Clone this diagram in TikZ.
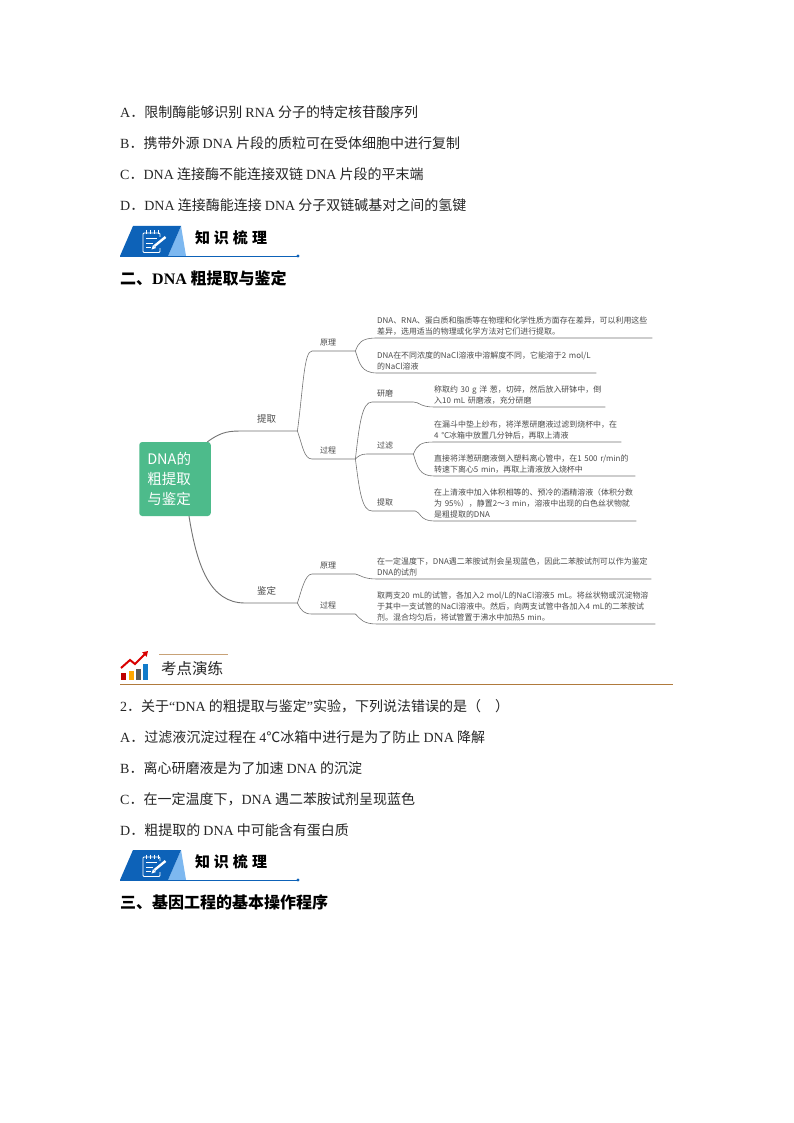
\documentclass[tikz,border=0pt]{standalone}
\usepackage{fontspec}
\setmainfont{Noto Sans CJK SC}
\newfontfamily\enfont{Liberation Serif}
\newcommand{\en}[1]{{\enfont #1}}
\usetikzlibrary{arrows.meta}
\definecolor{barblue}{HTML}{0D62B8}
\definecolor{barlight}{HTML}{7DB8F0}
\definecolor{rootgreen}{HTML}{4DBB8B}
\definecolor{maptext}{HTML}{4A4A4A}
\definecolor{rulebrown}{HTML}{B07A3C}
\tikzset{
  bodyline/.style={anchor=base west,inner sep=0pt,font=\fontsize{14}{16}\selectfont,text=black!85},
  headline/.style={anchor=base west,inner sep=0pt,font=\fontsize{16}{18}\selectfont\bfseries},
  branch/.style={draw=black!55,line width=0.6pt},
  mapmain/.style={anchor=south west,inner xsep=0pt,inner ysep=8pt,align=left,text=maptext,font=\fontsize{9.5}{11}\selectfont},
  mapsub/.style={anchor=south west,inner xsep=0pt,inner ysep=5pt,align=left,text=maptext,font=\fontsize{8}{10}\selectfont},
  mapleaf/.style={anchor=south west,inner xsep=0pt,inner ysep=2.5pt,align=left,text=maptext,font=\fontsize{7.95}{11}\selectfont}
}
\begin{document}
\begin{tikzpicture}[x=1pt,y=-1pt]
  \useasboundingbox[fill=white] (0,0) rectangle (794,1123);
  % first options
  \node[bodyline] (optA) at (120,118) {\en{A}．限制酶能够识别 \en{RNA} 分子的特定核苷酸序列};
  \node[bodyline] (optB) at (120,149) {\en{B}．携带外源 \en{DNA} 片段的质粒可在受体细胞中进行复制};
  \node[bodyline] (optC) at (120,180) {\en{C}．\en{DNA} 连接酶不能连接双链 \en{DNA} 片段的平末端};
  \node[bodyline] (optD) at (120,211) {\en{D}．\en{DNA} 连接酶能连接 \en{DNA} 分子双链碱基对之间的氢键};
  % knowledge bars
  \foreach \dy in {0,624} {
    \begin{scope}[yshift=-\dy pt]
      \fill[barlight] (181,226) -- (186,256) -- (168,256) -- cycle;
      \fill[barblue] (120,256) -- (133,226) -- (181,226) -- (168,256) -- cycle;
      \draw[barblue,line width=1pt] (120,256) -- (298,256);
      \fill[barblue] (298,256) circle (1.6);
      \draw[white,line width=0.9pt,rounded corners=1pt] (160,237) -- (160,233) -- (143,233) -- (143,252.5) -- (160,252.5) -- (160,248);
      \foreach \tx in {146,150,154,158}
        \draw[white,line width=0.8pt] (\tx,230.5) -- (\tx,234.5);
      \draw[white,line width=0.8pt] (146,238.5) -- (157,238.5) (146,243) -- (153,243) (146,247.5) -- (151,247.5);
      \draw[white,line width=2.4pt] (154.5,246) -- (165.5,237);
      \fill[white] (151.5,249.5) -- (153,245) -- (156,248) -- cycle;
      \node[inner sep=0pt,font=\fontsize{15}{16}\selectfont\bfseries] (know\dy) at (231,238) {知\hspace{4pt}识\hspace{4pt}梳\hspace{4pt}理};
    \end{scope}
  }
  \node[headline] (headTwo) at (120,284) {二、\en{DNA} 粗提取与鉴定};
  % mind map
  \node[fill=rootgreen,rounded corners=3pt,minimum width=71.5pt,minimum height=74pt,inner sep=0pt,text=white,
    align=left,font=\fontsize{14.5}{20}\selectfont,text width=71.5pt] (root) at (175,479) {\hspace*{8pt}DNA的\\\hspace*{8pt}粗提取\\\hspace*{8pt}与鉴定};
  \node[mapmain,text width=52pt] (tiqu) at (245,431) {\hspace*{12pt}提取};
  \node[mapmain,text width=52pt] (jianding) at (245,603) {\hspace*{12pt}鉴定};
  \node[mapsub,text width=43pt] (yuanliA) at (312,351) {\hspace*{8pt}原理};
  \node[mapsub,text width=43pt] (guochengA) at (312,459) {\hspace*{8pt}过程};
  \node[mapsub,text width=43pt] (yuanliB) at (312,574) {\hspace*{8pt}原理};
  \node[mapsub,text width=43pt] (guochengB) at (312,614) {\hspace*{8pt}过程};
  \node[mapsub,text width=41pt] (yanmo) at (372,402) {\hspace*{5pt}研磨};
  \node[mapsub,text width=46pt] (guolv) at (367,454) {\hspace*{10pt}过滤};
  \node[mapsub,text width=43pt] (tiquB) at (372,511) {\hspace*{5pt}提取};
  \node[mapleaf,text width=275pt] (leafA) at (377,338) {DNA、RNA、蛋白质和脂质等在物理和化学性质方面存在差异，可以利用这些\\差异，选用适当的物理或化学方法对它们进行提取。};
  \node[mapleaf,text width=219pt] (leafB) at (377,373) {DNA在不同浓度的NaCl溶液中溶解度不同，它能溶于2 mol/L\\的NaCl溶液};
  \node[mapleaf,text width=171pt] (leafC) at (434,407) {称取约 30 g 洋 葱，切碎，然后放入研钵中，倒\\入10 mL 研磨液，充分研磨};
  \node[mapleaf,text width=187pt] (leafD) at (434,442) {在漏斗中垫上纱布，将洋葱研磨液过滤到烧杯中，在\\4 ℃冰箱中放置几分钟后，再取上清液};
  \node[mapleaf,text width=201pt] (leafE) at (434,476) {直接将洋葱研磨液倒入塑料离心管中，在1 500 r/min的\\转速下离心5 min，再取上清液放入烧杯中};
  \node[mapleaf,text width=202pt] (leafF) at (434,521) {在上清液中加入体积相等的、预冷的酒精溶液（体积分数\\为 95\%），静置2～3 min，溶液中出现的白色丝状物就\\是粗提取的DNA};
  \node[mapleaf,text width=274pt] (leafG) at (377,579) {在一定温度下，DNA遇二苯胺试剂会呈现蓝色，因此二苯胺试剂可以作为鉴定\\DNA的试剂};
  \node[mapleaf,text width=278pt] (leafH) at (377,624) {取两支20 mL的试管，各加入2 mol/L的NaCl溶液5 mL。将丝状物或沉淀物溶\\于其中一支试管的NaCl溶液中。然后，向两支试管中各加入4 mL的二苯胺试\\剂。混合均匀后，将试管置于沸水中加热5 min。};
  % connectors
  \draw[branch,line width=0.9pt] ([xshift=-3.5pt]root.north east) .. controls +(15,-11) and +(-15,0) .. (tiqu.south west) -- (tiqu.south east);
  \draw[branch,line width=0.9pt] ([xshift=14pt]root.south) .. controls +(8,50) and +(-35,0) .. (jianding.south west) -- (jianding.south east);
  \draw[branch] (tiqu.south east) .. controls +(6,-45) and +(-8,0) .. (yuanliA.south west) -- (yuanliA.south east);
  \draw[branch] (tiqu.south east) .. controls +(5,14) and +(-8,0) .. (guochengA.south west) -- (guochengA.south east);
  \draw[branch] (jianding.south east) .. controls +(4,-12) and +(-7,0) .. (yuanliB.south west) -- (yuanliB.south east);
  \draw[branch] (jianding.south east) .. controls +(4,8) and +(-8,0) .. (guochengB.south west) -- (guochengB.south east);
  \draw[branch] (yuanliA.south east) .. controls +(3,-8) and +(-16,0) .. (leafA.south west) -- (leafA.south east);
  \draw[branch] (yuanliA.south east) .. controls +(4,12) and +(-16,0) .. (leafB.south west) -- (leafB.south east);
  \draw[branch] (guochengA.south east) .. controls +(4,-35) and +(-10,0) .. (yanmo.south west) -- (yanmo.south east);
  \draw[branch] (guochengA.south east) .. controls +(3,-3) and +(-6,0) .. (guolv.south west) -- (guolv.south east);
  \draw[branch] (guochengA.south east) .. controls +(4,32) and +(-10,0) .. (tiquB.south west) -- (tiquB.south east);
  \draw[branch] (yanmo.south east) .. controls +(6,0) and +(-14,0) .. (leafC.south west) -- (leafC.south east);
  \draw[branch] (guolv.south east) .. controls +(4,-9) and +(-14,0) .. (leafD.south west) -- (leafD.south east);
  \draw[branch] (guolv.south east) .. controls +(4,14) and +(-14,0) .. (leafE.south west) -- (leafE.south east);
  \draw[branch] (tiquB.south east) .. controls +(5,1) and +(-14,0) .. (leafF.south west) -- (leafF.south east);
  \draw[branch] (yuanliB.south east) .. controls +(5,1) and +(-14,0) .. (leafG.south west) -- (leafG.south east);
  \draw[branch] (guochengB.south east) .. controls +(5,5) and +(-14,0) .. (leafH.south west) -- (leafH.south east);
  % practice bar
  \fill[red!75!black] (121,673) rectangle (126,680);
  \fill[orange!70!yellow] (128.5,671) rectangle (133.5,680);
  \fill[black!65] (136,669) rectangle (141,680);
  \fill[cyan!60!blue] (143,664) rectangle (148,680);
  \draw[red!85!black,line width=2pt,-{Triangle[length=5pt,width=6pt]}] (121,668) -- (130,660) -- (135,664) -- (148,651);
  \draw[rulebrown!70,line width=0.7pt] (159,654) -- (228,654);
  \node[inner sep=0pt,font=\fontsize{15.5}{17}\selectfont,text=black!85] (practice) at (192,669) {考点演练};
  \draw[rulebrown,line width=0.9pt] (120,684) -- (673,684);
  % second question
  \node[bodyline] (qTwo) at (120,711) {\en{2}．关于\en{“DNA} 的粗提取与鉴定\en{”}实验，下列说法错误的是（\hspace{14pt}）};
  \node[bodyline] (qA) at (120,742) {\en{A}．过滤液沉淀过程在 \en{4}℃冰箱中进行是为了防止 \en{DNA} 降解};
  \node[bodyline] (qB) at (120,773) {\en{B}．离心研磨液是为了加速 \en{DNA} 的沉淀};
  \node[bodyline] (qC) at (120,804) {\en{C}．在一定温度下，\en{DNA} 遇二苯胺试剂呈现蓝色};
  \node[bodyline] (qD) at (120,835) {\en{D}．粗提取的 \en{DNA} 中可能含有蛋白质};
  \node[headline] (headThree) at (120,908) {三、基因工程的基本操作程序};
\end{tikzpicture}
\end{document}
